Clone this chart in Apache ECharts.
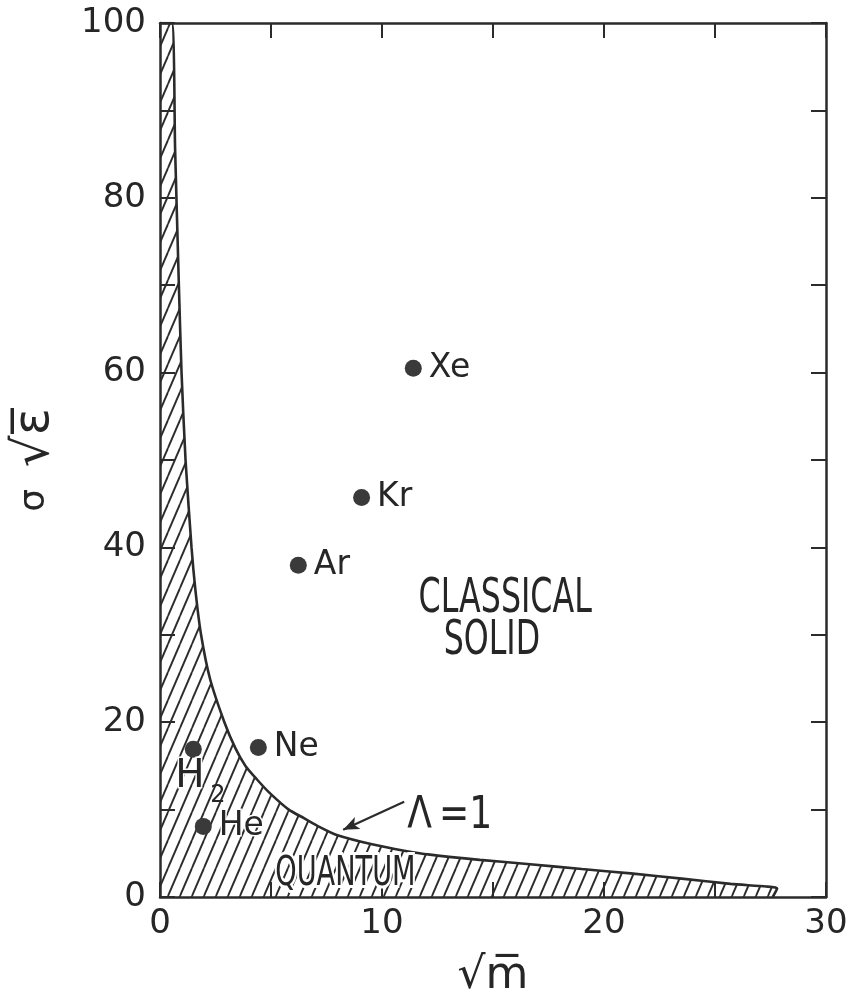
<!DOCTYPE html>
<html>
<head>
<meta charset="utf-8">
<script src="https://cdn.jsdelivr.net/npm/echarts@6/dist/echarts.min.js"></script>
<style>
html,body{margin:0;padding:0;background:#fff;overflow:hidden;}
#c{width:852px;height:1004px;}
</style>
</head>
<body>
<div id="c"></div>
<script>
// ---- data ----
const xTicks = [0, 10, 20, 30];
const yTicks = [0, 20, 40, 60, 80, 100];
// Lambda = 1 boundary curve (sqrt m, sigma sqrt eps)
const curveX = [0, 0.53, 0.68, 0.85, 0.97, 1.15, 1.42, 1.6, 1.85, 2.25, 2.9, 3.4, 3.85, 4.35, 4.9, 5.8, 6.5, 7.2, 7.96, 9.6, 11.0, 12.16, 14.4, 16.67, 19.0, 21.2, 23.5, 25.7, 27.3, 27.8, 27.6];
const curveY = [100, 100, 85.6, 70, 60, 50, 40, 35, 30, 25, 20, 17, 15, 13.5, 12, 10, 9, 8, 7.1, 6.0, 5.3, 4.85, 4.25, 3.75, 3.2, 2.7, 2.1, 1.5, 1.2, 1.0, 0];
const elements = ['Xe', 'Kr', 'Ar', 'Ne', 'H2', 'He'];
const elemX = [11.41, 9.08, 6.23, 4.43, 1.5, 1.95];
const elemY = [60.5, 45.7, 37.96, 17.1, 16.9, 8.08];
// annotation anchors (data coords)
const annotText = ['CLASSICAL', 'SOLID', 'QUANTUM'];
const annotX = [15.55, 14.95, 8.35];
const annotY = [34.0, 29.2, 2.6];
const lambdaArrowFrom = [11.0, 10.9];
const lambdaArrowTo = [8.25, 7.7];

// hatch pattern
const pat = document.createElement('canvas');
pat.width = 12; pat.height = 28;
(function(){
  const g = pat.getContext('2d');
  g.strokeStyle = '#2b2b2b';
  g.lineWidth = 1.9;
  for (const off of [-12, 0, 12]) {
    g.beginPath();
    g.moveTo(off, 28);
    g.lineTo(off + 12, 0);
    g.stroke();
  }
})();

const curve = curveX.map((x, i) => [x, curveY[i]]);
const pts = elements.map((n, i) => {
  const d = {name: n, value: [elemX[i], elemY[i]]};
  if (n === 'H2') d.label = {show: false};
  return d;
});

const axisCommonX = {
  type: 'value', min: 0, max: 30, interval: 5,
  axisLine: {show: true, onZero: false, lineStyle: {color: '#2b2b2b', width: 2.5}},
  axisTick: {show: true, inside: true, length: 15, lineStyle: {color: '#2b2b2b', width: 2}},
  splitLine: {show: false}
};
const axisCommonY = {
  type: 'value', min: 0, max: 100, interval: 10,
  axisLine: {show: true, onZero: false, lineStyle: {color: '#2b2b2b', width: 2.5}},
  axisTick: {show: true, inside: true, length: 15, lineStyle: {color: '#2b2b2b', width: 2}},
  splitLine: {show: false}
};

const dom = document.getElementById('c');
const chart = echarts.init(dom, null, {renderer: 'canvas', width: 852, height: 1004});
const option = {
  backgroundColor: '#fff',
  animation: false,
  grid: {left: 160, right: 26, top: 23, bottom: 94, containLabel: false},
  xAxis: [
    Object.assign({}, axisCommonX, {
      position: 'bottom',
      axisLabel: {show: true, margin: 10, fontSize: 34, fontFamily: 'DejaVu Sans', color: '#262626',
        formatter: v => xTicks.indexOf(v) >= 0 ? String(v) : ''},
      name: '√m\u0305', nameLocation: 'middle', nameGap: 58,
      nameTextStyle: {fontSize: 44, fontFamily: 'DejaVu Sans', color: '#262626'}
    }),
    Object.assign({}, axisCommonX, {position: 'top', axisLabel: {show: false}})
  ],
  yAxis: [
    Object.assign({}, axisCommonY, {
      position: 'left',
      axisLabel: {show: true, margin: 14, fontSize: 34, fontFamily: 'DejaVu Sans', color: '#262626',
        formatter: v => yTicks.indexOf(v) >= 0 ? String(v) : ''},
      name: '{a|σ}  {b|√ε\u0305}', nameLocation: 'middle', nameRotate: 90, nameGap: 100,
      nameTextStyle: {fontSize: 34, fontFamily: 'DejaVu Sans', color: '#262626',
        rich: {a: {fontSize: 36, fontFamily: 'DejaVu Sans', color: '#262626'},
               b: {fontSize: 50, fontFamily: 'DejaVu Sans', color: '#262626'}}}
    }),
    Object.assign({}, axisCommonY, {position: 'right', axisLabel: {show: false}})
  ],
  series: [
    {
      type: 'line', xAxisIndex: 0, yAxisIndex: 0,
      data: curve, symbol: 'none', smooth: 0.2,
      lineStyle: {color: '#2b2b2b', width: 2.6},
      areaStyle: {color: {image: pat, repeat: 'repeat'}, opacity: 1, origin: 'start'},
      markLine: {
        silent: true, symbol: ['none', 'arrow'], symbolSize: [10, 16],
        lineStyle: {color: '#2b2b2b', width: 2.2, type: 'solid'},
        label: {show: false},
        data: [[{coord: lambdaArrowFrom}, {coord: lambdaArrowTo}]]
      },
      z: 2
    },
    {
      type: 'scatter', xAxisIndex: 0, yAxisIndex: 0,
      data: pts, symbol: 'circle', symbolSize: 17,
      itemStyle: {color: '#3a3a3a', opacity: 1},
      label: {show: true, position: 'right', distance: 7, formatter: '{b}',
        fontSize: 33, fontFamily: 'DejaVu Sans', color: '#262626',
        textBorderColor: '#fff', textBorderWidth: 3},
      z: 5
    }
  ]
};
chart.setOption(option);

function place() {
  const g = [];
  const scales = [0.66, 0.66, 0.68];
  const sizes = [48, 48, 40];
  annotText.forEach((t, i) => {
    const p = chart.convertToPixel({gridIndex: 0}, [annotX[i], annotY[i]]);
    g.push({
      type: 'text', x: p[0], y: p[1], scaleX: scales[i], z: 10,
      style: {text: t, fontSize: sizes[i], fontFamily: 'DejaVu Sans', fill: '#262626',
        align: 'center', verticalAlign: 'middle', strokeFirst: true,
        stroke: i === 2 ? '#fff' : null, lineWidth: i === 2 ? 6 : 0}
    });
  });
  // H2 label placed under its dot
  const hi = elements.indexOf('H2');
  const hp = chart.convertToPixel({gridIndex: 0}, [elemX[hi], elemY[hi]]);
  g.push({
    type: 'text', x: hp[0] - 18, y: hp[1] + 28, z: 10,
    style: {text: 'H', fontSize: 39, fontFamily: 'DejaVu Sans', fill: '#262626',
      align: 'left', verticalAlign: 'middle', stroke: '#fff', lineWidth: 3, strokeFirst: true}
  });
  g.push({
    type: 'text', x: hp[0] + 17, y: hp[1] + 46, z: 10,
    style: {text: '2', fontSize: 24, fontFamily: 'DejaVu Sans', fill: '#262626',
      align: 'left', verticalAlign: 'middle'}
  });
  const lp = chart.convertToPixel({gridIndex: 0}, lambdaArrowFrom);
  g.push({
    type: 'text', x: lp[0] + 3, y: lp[1] + 15, scaleX: 0.82, z: 10,
    style: {text: 'Λ\u2009=1', fontSize: 44, fontFamily: 'DejaVu Sans', fill: '#262626',
      align: 'left', verticalAlign: 'middle'}
  });
  chart.setOption({graphic: g});
}
place();
</script>
</body>
</html>
